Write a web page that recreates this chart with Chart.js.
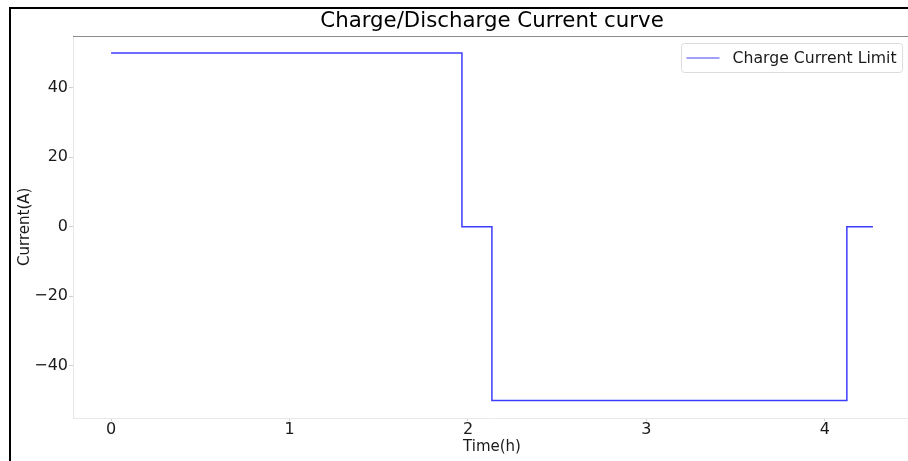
<!DOCTYPE html>
<html><head><meta charset="utf-8">
<script src="https://cdn.jsdelivr.net/npm/chart.js@4/dist/chart.umd.min.js"></script>
<style>
html,body{margin:0;padding:0;background:#fff;overflow:hidden;width:908px;height:461px}
#c{position:absolute;left:0;top:0}
#frame{position:absolute;left:9px;top:7px;width:1000px;height:1000px;border-left:2px solid #000;border-top:2px solid #000;pointer-events:none}
</style></head><body>
<canvas id="c" width="914" height="461"></canvas><div id="frame"></div>
<script>
// Data
const timeHours   = [0, 1.966, 2.134, 4.123, 4.269];
const currentAmps = [50, 0, -50, 0, 0];
const xTicks = [0, 1, 2, 3, 4];
const yTicks = [-40, -20, 0, 20, 40];
const seriesLabel = 'Charge Current Limit';
const chartTitle = 'Charge/Discharge Current curve';
const xLabel = 'Time(h)';
const yLabel = 'Current(A)';

const FONT = "'DejaVu Sans', sans-serif";
const points = timeHours.map((t, i) => ({x: t, y: currentAmps[i]}));
const xMargin = (Math.max(...timeHours) - Math.min(...timeHours)) * 0.05;
const yMargin = (Math.max(...currentAmps) - Math.min(...currentAmps)) * 0.05;
const fmt = v => v < 0 ? '\u2212' + Math.abs(v) : String(v);

const decor = {
  id: 'decor',
  afterDraw(chart) {
    const {ctx, chartArea: a} = chart;
    ctx.save();
    // top spine
    ctx.strokeStyle = '#8c8c8c';
    ctx.lineWidth = 1;
    ctx.beginPath();
    ctx.moveTo(a.left, Math.round(a.top) + 0.5);
    ctx.lineTo(a.right, Math.round(a.top) + 0.5);
    ctx.stroke();
    // legend
    const ds = chart.data.datasets[0];
    ctx.font = '15.7px ' + FONT;
    const tw = ctx.measureText(ds.label).width;
    const bw = 5 + 33 + 13 + tw + 6;
    const bh = 29;
    const bx = Math.round(a.right - 9 - bw) + 0.5;
    const by = Math.round(a.top + 7) + 0.5;
    ctx.beginPath();
    ctx.roundRect(bx, by, bw, bh, 3);
    ctx.fillStyle = 'rgba(255,255,255,0.8)';
    ctx.fill();
    ctx.strokeStyle = '#dcdcdc';
    ctx.stroke();
    const cy = by + bh / 2;
    ctx.strokeStyle = ds.borderColor;
    ctx.globalAlpha = 0.65;
    ctx.lineWidth = 1.5;
    ctx.beginPath();
    ctx.moveTo(bx + 5, Math.round(cy));
    ctx.lineTo(bx + 38, Math.round(cy));
    ctx.stroke();
    ctx.globalAlpha = 1;
    ctx.fillStyle = '#1a1a1a';
    ctx.textBaseline = 'middle';
    ctx.textAlign = 'left';
    ctx.fillText(ds.label, bx + 51, cy + 0.5);
    ctx.restore();
  }
};

new Chart(document.getElementById('c'), {
  type: 'line',
  data: {
    datasets: [{
      label: seriesLabel,
      data: points,
      stepped: true,
      borderColor: '#3c3cff',
      borderWidth: 1.5,
      pointRadius: 0,
      fill: false
    }]
  },
  options: {
    responsive: false,
    animation: false,
    devicePixelRatio: 1,
    layout: {padding: {top: 0, right: 3, left: 0, bottom: 0}},
    plugins: {
      legend: {display: false},
      tooltip: {enabled: false},
      title: {
        display: true,
        text: chartTitle,
        fullSize: false,
        color: '#000',
        font: {family: FONT, size: 21.3, weight: 'normal'},
        padding: {top: 9, bottom: 1}
      }
    },
    scales: {
      x: {
        type: 'linear',
        min: Math.min(...timeHours) - xMargin,
        max: Math.max(...timeHours) + xMargin,
        afterBuildTicks: s => { s.ticks = xTicks.map(v => ({value: v})); },
        afterFit: s => { s.height = 43; },
        grid: {display: true, drawOnChartArea: false, drawTicks: true, tickLength: 3, color: '#d0d0d0'},
        border: {display: true, color: '#e8e8e8'},
        ticks: {color: '#1a1a1a', font: {family: FONT, size: 16}, padding: -1, maxRotation: 0, callback: v => fmt(v)},
        title: {display: true, text: xLabel, color: '#1a1a1a', font: {family: FONT, size: 15}, padding: {top: 0, bottom: 5}}
      },
      y: {
        type: 'linear',
        min: Math.min(...currentAmps) - yMargin,
        max: Math.max(...currentAmps) + yMargin,
        afterBuildTicks: s => { s.ticks = yTicks.map(v => ({value: v})); },
        afterFit: s => { s.width = 73; },
        grid: {display: true, drawOnChartArea: false, drawTicks: true, tickLength: 4, color: '#d0d0d0'},
        border: {display: true, color: '#e8e8e8'},
        ticks: {color: '#1a1a1a', font: {family: FONT, size: 16}, padding: 1, callback: v => fmt(v)},
        title: {display: true, text: yLabel, color: '#1a1a1a', font: {family: FONT, size: 15}, padding: {top: 16, bottom: 0}}
      }
    }
  },
  plugins: [decor]
});
</script>
</body></html>
